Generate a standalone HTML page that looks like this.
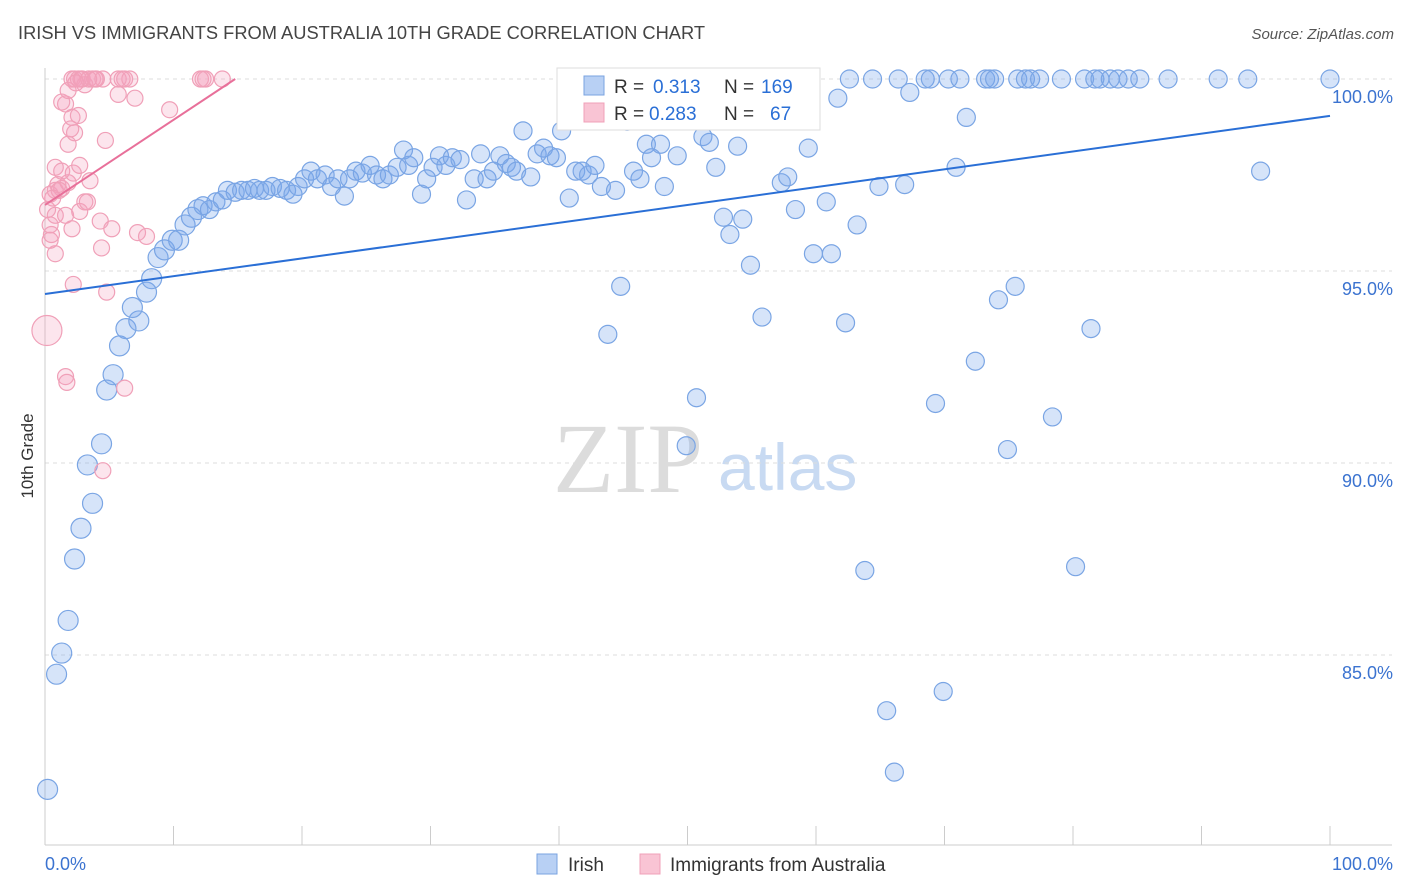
<!DOCTYPE html>
<html><head><meta charset="utf-8"><style>
body{margin:0;background:#fff;font-family:"Liberation Sans",sans-serif}
svg{display:block}
</style></head><body>
<svg id="chart" width="1406" height="892" xmlns="http://www.w3.org/2000/svg">
<text x="18" y="39" font-size="18.3" fill="#444">IRISH VS IMMIGRANTS FROM AUSTRALIA 10TH GRADE CORRELATION CHART</text>
<text x="1394" y="39" font-size="15" fill="#555" text-anchor="end" font-style="italic">Source: ZipAtlas.com</text>
<text x="553" y="492" font-size="100" font-family="Liberation Serif,serif" fill="#dcdcdc">ZIP</text>
<text x="718" y="490" font-size="66" fill="#c8daf2">atlas</text>
<text transform="translate(33,456) rotate(-90)" font-size="17" fill="#333" text-anchor="middle">10th Grade</text>
<g id="grid"></g><g id="axes"></g><g id="pts"></g><g id="lines"></g>
<g>
<rect x="557" y="68" width="263" height="62" fill="#fff" stroke="#ddd"/>
<rect x="584" y="76" width="20" height="19" fill="#b8d0f4" stroke="#7aa3e0"/>
<rect x="584" y="103" width="20" height="19" fill="#f9c4d4" stroke="#f0a0b8"/>
<text x="614" y="93" font-size="19" fill="#333">R =</text>
<text x="653" y="93" font-size="19" fill="#2a6fd6">0.313</text>
<text x="724" y="93" font-size="19" fill="#333">N =</text>
<text x="761" y="93" font-size="19" fill="#2a6fd6">169</text>
<text x="614" y="120" font-size="19" fill="#333">R =</text>
<text x="649" y="120" font-size="19" fill="#2a6fd6">0.283</text>
<text x="724" y="120" font-size="19" fill="#333">N =</text>
<text x="770" y="120" font-size="19" fill="#2a6fd6">67</text>
</g>
<g>
<rect x="537" y="854" width="20" height="20" fill="#b8d0f4" stroke="#7aa3e0"/>
<text x="568" y="871" font-size="19" fill="#333">Irish</text>
<rect x="640" y="854" width="20" height="20" fill="#f9c4d4" stroke="#f0a0b8"/>
<text x="670" y="871" font-size="19" fill="#333">Immigrants from Australia</text>
</g>
</svg>
<script>
const yTicks=[85,90,95,100];
const yTickLabels=["85.0%","90.0%","95.0%","100.0%"];
const xTickLabels=["0.0%","100.0%"];
const blueX=[58.8,62.6,64.4,66.4,68.5,68.9,70.3,71.2,73.2,73.5,73.9,75.7,76.3,76.7,77.4,79.1,80.9,81.7,82.1,82.9,83.5,84.3,85.2,87.4,91.3,93.6,100,
0.2,0.9,1.3,1.8,2.3,2.8,3.7,3.3,4.4,4.8,5.3,5.8,6.3,7.3,6.8,7.9,8.3,8.8,9.3,9.9,10.4,10.9,11.4,11.9,12.3,12.8,13.3,13.8,14.2,14.8,15.3,15.8,16.3,16.7,17.2,17.7,18.3,18.8,19.3,19.7,20.2,20.7,21.2,21.8,22.3,22.8,23.3,23.7,24.2,24.7,25.3,25.8,26.3,26.8,27.4,27.9,28.3,28.7,29.3,29.7,30.2,30.7,31.2,31.7,32.3,32.8,33.4,33.9,34.4,34.9,35.4,35.9,36.3,36.7,37.2,37.8,38.3,38.8,39.3,39.8,40.2,40.8,41.3,41.8,42.3,42.8,43.3,43.8,44.4,44.8,45.3,45.8,46.3,46.8,47.2,47.9,48.2,48.8,49.2,49.9,50.7,51.2,51.7,52.2,52.8,53.3,53.9,54.3,54.9,55.8,56.3,57.3,57.8,58.4,59.4,59.8,60.8,61.2,61.7,62.3,63.2,63.8,64.9,65.5,66.1,66.9,67.3,69.3,69.9,70.9,71.7,72.4,74.2,74.9,75.5,78.4,80.2,81.4,94.6];
const blueY=[100,100,100,100,100,100,100,100,100,100,100,100,100,100,100,100,100,100,100,100,100,100,100,100,100,100,100,
81.5,84.5,85.05,85.9,87.5,88.3,88.95,89.95,90.5,91.9,92.3,93.05,93.5,93.7,94.05,94.45,94.8,95.35,95.55,95.8,95.8,96.2,96.4,96.6,96.7,96.6,96.8,96.85,97.1,97.05,97.1,97.1,97.15,97.1,97.1,97.2,97.15,97.1,97.0,97.2,97.4,97.6,97.4,97.5,97.2,97.4,96.95,97.4,97.6,97.55,97.75,97.5,97.4,97.5,97.7,98.15,97.75,97.95,97.0,97.4,97.7,98.0,97.75,97.95,97.9,96.85,97.4,98.05,97.4,97.6,98.0,97.8,97.7,97.6,98.65,97.45,98.05,98.2,98.0,97.95,98.65,96.9,97.6,97.6,97.5,97.75,97.2,93.35,97.1,94.6,98.9,97.6,97.4,98.3,97.95,98.3,97.2,99.1,98.0,90.45,91.7,98.5,98.35,97.7,96.4,95.95,98.25,96.35,95.15,93.8,99.2,97.3,97.45,96.6,98.2,95.45,96.8,95.45,99.5,93.65,96.2,87.2,97.2,83.55,81.95,97.25,99.65,91.55,84.05,97.7,99.0,92.65,94.25,90.35,94.6,91.2,87.3,93.5,97.6];
const pinkX=[0.15,2.2,4.8,1.6,1.7,6.2,4.5,0.8,0.4,0.5,0.4,0.2,0.8,1.6,2.1,2.7,3.1,3.3,4.3,4.4,5.2,7.2,7.9,0.4,0.8,1.0,1.3,1.8,3.5,0.8,1.3,2.2,2.7,1.8,2.3,2.0,4.7,2.1,2.6,1.6,1.3,1.8,5.7,7.0,9.7,2.1,2.3,2.6,2.9,3.1,3.7,4.0,4.5,5.7,6.2,6.6,12.1,12.5,13.8,2.8,3.4,1.1,0.6,3.9,6.0,12.3,2.4];
const pinkY=[93.45,94.65,94.45,92.25,92.1,91.95,89.8,95.45,95.8,95.95,96.2,96.6,96.45,96.45,96.1,96.55,96.8,96.8,96.3,95.6,96.1,96.0,95.9,97.0,97.1,97.25,97.15,97.3,97.35,97.7,97.6,97.55,97.75,98.3,98.6,98.7,98.4,99.0,99.05,99.35,99.4,99.7,99.6,99.5,99.2,100,100,100,100,99.85,100,100,100,100,100,100,100,100,100,100,100,97.1,96.9,100,100,100,99.9];
const pinkBig=[0];
const blueTrend=[94.4,99.04];
const pinkTrend=[96.72,100,14.8];
const NS="http://www.w3.org/2000/svg";
const X=v=>45+v*12.85, Y=v=>79+(100-v)*38.4;
function mk(tag,attrs,parent){const e=document.createElementNS(NS,tag);for(const k in attrs)e.setAttribute(k,attrs[k]);parent.appendChild(e);return e;}
const grid=document.getElementById('grid'),axes=document.getElementById('axes'),pts=document.getElementById('pts'),lines=document.getElementById('lines');
yTicks.forEach((t,i)=>{
 const l=mk('line',{x1:45,x2:1392,y1:Y(t),y2:Y(t),stroke:'#ddd','stroke-dasharray':'4,4'},grid);
 
 
 const tx=mk('text',{x:1393,y:Y(t)+24,'font-size':18,fill:'#3b73d0','text-anchor':'end'},axes);
 tx.textContent=yTickLabels[i];
 
 
});
const ya=mk('line',{x1:45,x2:45,y1:68,y2:845,stroke:'#ccc'},axes);


const xa=mk('line',{x1:45,x2:1392,y1:845,y2:845,stroke:'#ccc'},axes);


for(let i=0;i<=10;i++){const t=mk('line',{x1:X(i*10),x2:X(i*10),y1:826,y2:845,stroke:'#ccc'},axes);
 
 }
[[0,'start',45],[1,'end',1393]].forEach(([i,a,x])=>{const t=mk('text',{x:x,y:870,'font-size':18,fill:'#3b73d0','text-anchor':a},axes);t.textContent=xTickLabels[i];
 
 });
blueX.forEach((v,i)=>{const r=v<12?10:9;const c=mk('circle',{cx:X(v),cy:Y(blueY[i]),r:r,fill:'rgba(120,165,235,0.3)',stroke:'#7aa5e4','stroke-width':1.2},pts);
 
 });
pinkX.forEach((v,i)=>{const r=pinkBig.includes(i)?15:8;const c=mk('circle',{cx:X(v),cy:Y(pinkY[i]),r:r,fill:'rgba(245,160,190,0.28)',stroke:'#f0a0b8','stroke-width':1.2},pts);
 
 });
const bl=mk('line',{x1:X(0),y1:Y(blueTrend[0]),x2:X(100),y2:Y(blueTrend[1]),stroke:'#2a6fd6','stroke-width':2},lines);


const pl=mk('line',{x1:X(0),y1:Y(pinkTrend[0]),x2:X(pinkTrend[2]),y2:Y(pinkTrend[1]),stroke:'#e8709a','stroke-width':2},lines);


</script>
</body></html>
